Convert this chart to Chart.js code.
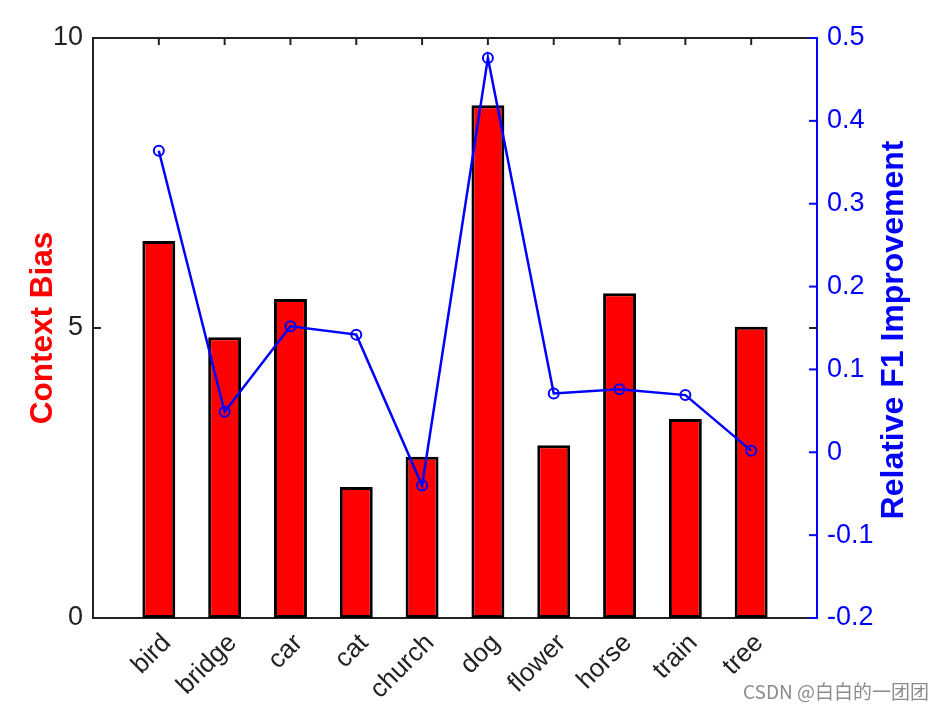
<!DOCTYPE html>
<html>
<head>
<meta charset="utf-8">
<script src="https://cdn.jsdelivr.net/npm/chart.js@4.4.1/dist/chart.umd.min.js"></script>
<style>
  body { margin: 0; background: #fff; }
  #wrap { position: relative; width: 948px; height: 710px; }
  #mark {
    position: absolute; left: 743px; top: 677px;
    font: 19px "Noto Sans CJK SC", "Liberation Sans", sans-serif;
    color: #8c8c8c; white-space: nowrap;
  }
</style>
</head>
<body>
<div id="wrap">
  <canvas id="myChart" width="948" height="710"></canvas>
  <div id="mark">CSDN @白白的一团团</div>
</div>
<script>
"use strict";

// values
const categories = ["bird", "bridge", "car", "cat", "church", "dog", "flower", "horse", "train", "tree"];
const contextBias = [6.5, 4.84, 5.5, 2.26, 2.78, 8.84, 2.98, 5.6, 3.43, 5.02];
const f1Improvement = [0.364, 0.049, 0.152, 0.142, -0.040, 0.476, 0.071, 0.076, 0.069, 0.002];
const leftTicks = [0, 5, 10];
const rightTicks = [-0.2, -0.1, 0, 0.1, 0.2, 0.3, 0.4, 0.5];

const FONT = "'Liberation Sans', Arial, sans-serif";
const DARK = "#222";
const BLUE = "#0000ff";

// empty slot on each side so the categories sit at 1..10 on a 0..11 axis
const labels = ["", ...categories, ""];
const pad = arr => [null, ...arr, null];

const line = (ctx, x1, y1, x2, y2) => {
    ctx.beginPath();
    ctx.moveTo(x1, y1);
    ctx.lineTo(x2, y2);
    ctx.stroke();
};

// matlab style inward ticks + right axis title (reads bottom to top)
const innerTicks = {
    id: "innerTicks",
    afterDraw(chart) {
        const { ctx, chartArea: area, scales } = chart;
        ctx.save();
        ctx.lineWidth = 2;
        ctx.strokeStyle = DARK;
        categories.forEach((c, i) => {
            const x = scales.x.getPixelForValue(i + 1);
            line(ctx, x, area.top, x, area.top + 7);
        });
        leftTicks.forEach(v => {
            const y = scales.y.getPixelForValue(v);
            line(ctx, area.left, y, area.left + 8, y);
            line(ctx, area.right - 8, y, area.right, y);
        });
        ctx.strokeStyle = BLUE;
        rightTicks.forEach(v => {
            const y = scales.y1.getPixelForValue(v);
            line(ctx, area.right - 8, y, area.right, y);
        });

        ctx.translate(894, (area.top + area.bottom) / 2 + 2);
        ctx.rotate(-Math.PI / 2);
        ctx.fillStyle = BLUE;
        ctx.font = "bold 32px " + FONT;
        ctx.textAlign = "center";
        ctx.textBaseline = "middle";
        ctx.fillText("Relative F1 Improvement", 0, 0);
        ctx.restore();
    }
};

const renderChart = () => {
    const ctx = document.getElementById("myChart");

    new Chart(ctx, {
        data: {
            labels: labels,
            datasets: [{
                type: "line",
                label: "Relative F1 Improvement",
                data: pad(f1Improvement),
                yAxisID: "y1",
                borderColor: BLUE,
                borderWidth: 2.5,
                pointRadius: 5,
                pointBorderWidth: 2,
                pointBackgroundColor: "rgba(0,0,0,0)",
                pointBorderColor: BLUE,
                tension: 0,
                order: 0
            }, {
                type: "bar",
                label: "Context Bias",
                data: pad(contextBias),
                yAxisID: "y",
                backgroundColor: "#ff0000",
                borderColor: "#000",
                borderWidth: 3,
                borderSkipped: false,
                barPercentage: 0.5,
                categoryPercentage: 1,
                order: 1
            }]
        },
        options: {
            responsive: false,
            animation: false,
            layout: { padding: 0 },
            plugins: {
                legend: { display: false },
                tooltip: { enabled: false }
            },
            scales: {
                x: {
                    type: "category",
                    position: "bottom",
                    offset: false,
                    grid: { display: false, drawTicks: false },
                    border: { display: true, color: DARK, width: 2 },
                    ticks: {
                        autoSkip: false,
                        maxRotation: 45,
                        minRotation: 45,
                        padding: 10,
                        labelOffset: 8,
                        color: DARK,
                        font: { family: FONT, size: 26 }
                    },
                    afterFit: scale => { scale.height = 92; }
                },
                xTop: {
                    type: "category",
                    position: "top",
                    offset: false,
                    grid: { display: false, drawTicks: false },
                    border: { display: true, color: DARK, width: 2 },
                    ticks: { display: false },
                    afterFit: scale => { scale.height = 38; }
                },
                y: {
                    position: "left",
                    min: 0,
                    max: 10,
                    grid: { display: false, drawTicks: false },
                    border: { display: true, color: DARK, width: 2 },
                    ticks: {
                        stepSize: 5,
                        padding: 10,
                        color: DARK,
                        font: { family: FONT, size: 27 }
                    },
                    title: {
                        display: true,
                        text: "Context Bias",
                        color: "#ff0000",
                        font: { family: FONT, size: 31.5, weight: "bold" },
                        padding: { top: 24, bottom: 0 }
                    },
                    afterFit: scale => { scale.width = 93; }
                },
                y1: {
                    position: "right",
                    min: -0.2,
                    max: 0.5,
                    grid: { display: false, drawTicks: false },
                    border: { display: true, color: BLUE, width: 2 },
                    ticks: {
                        stepSize: 0.1,
                        padding: 10,
                        color: BLUE,
                        font: { family: FONT, size: 27 },
                        callback: v => {
                            const r = Math.round(v * 10) / 10;
                            return r === 0 ? "0" : String(r);
                        }
                    },
                    afterFit: scale => { scale.width = 131; }
                }
            }
        },
        plugins: [innerTicks]
    });
};

document.addEventListener("DOMContentLoaded", renderChart);
</script>
</body>
</html>
